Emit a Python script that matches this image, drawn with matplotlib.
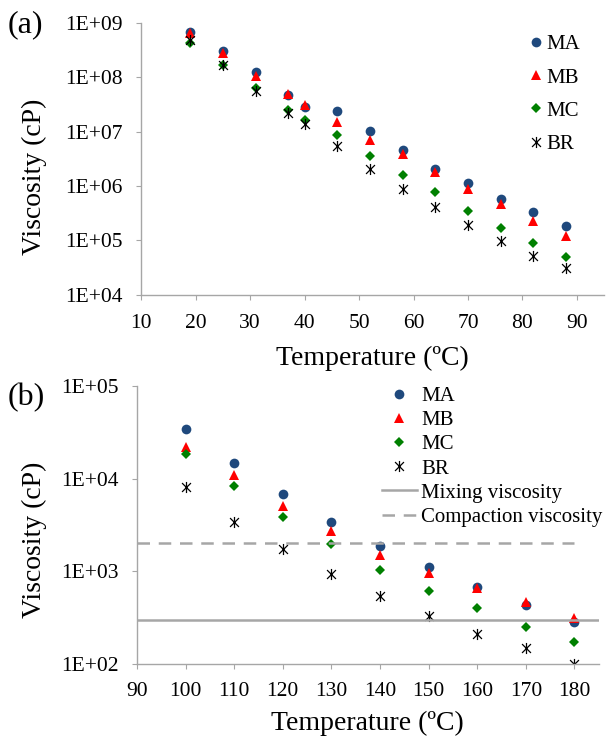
import numpy as np
import matplotlib
matplotlib.use('Agg')
from matplotlib import pyplot as plt
from matplotlib.path import Path
from matplotlib.ticker import FixedLocator, FuncFormatter

plt.rcParams['font.family'] = ['Liberation Serif', 'DejaVu Serif']

# (a) low temperature range
tempA = [19, 25, 31, 37, 40, 46, 52, 58, 64, 70, 76, 82, 88]
maA = [6.9e8, 3.0e8, 1.23e8, 4.8e7, 2.9e7, 2.4e7, 1.05e7, 4.7e6, 2.1e6, 1.15e6, 5.7e5, 3.3e5, 1.86e5]
mbA = [6.5e8, 2.8e8, 1.07e8, 4.9e7, 3.1e7, 1.48e7, 6.9e6, 3.9e6, 1.8e6, 8.9e5, 4.7e5, 2.3e5, 1.23e5]
mcA = [4.3e8, 1.7e8, 6.3e7, 2.5e7, 1.66e7, 8.7e6, 3.6e6, 1.6e6, 7.9e5, 3.5e5, 1.7e5, 8.9e4, 4.9e4]
brA = [4.8e8, 1.7e8, 5.7e7, 2.2e7, 1.4e7, 5.4e6, 2.1e6, 8.9e5, 4.1e5, 1.95e5, 9.6e4, 5.2e4, 3.1e4]

# (b) high temperature range
tempB = [100, 110, 120, 130, 140, 150, 160, 170, 180]
maB = [3.5e4, 1.48e4, 6.8e3, 3.4e3, 1.87e3, 1.12e3, 680, 430, 280]
mbB = [2.24e4, 1.1e4, 5.1e3, 2.7e3, 1.5e3, 950, 660, 470, 310]
mcB = [1.87e4, 8.4e3, 3.9e3, 1.96e3, 1.03e3, 610, 400, 250, 170]
brB = [8.1e3, 3.4e3, 1.74e3, 930, 540, 330, 210, 147, 100]
mixingVisc = 300
compactionVisc = 2000

# excel-style star: an x with a vertical bar through it
starMarker = Path([(-1, -1), (1, 1), (-1, 1), (1, -1), (0, -1.25), (0, 1.25)],
                  [Path.MOVETO, Path.LINETO, Path.MOVETO, Path.LINETO, Path.MOVETO, Path.LINETO])

series = [
    ('MA', 'o', '#1f497d', 7),
    ('MB', '^', '#ff0000', 7.5),
    ('MC', 'D', '#008000', 5.5),
    ('BR', starMarker, '#000000', 8),
]
gray = '#a6a6a6'
tickSize = 15.5
labelSize = 20


def expFormat(v, pos):
    return '1E+{:02d}'.format(int(round(np.log10(v))))


def styleAxis(ax, xlim, xticks, ylim, decades, ylabelPos, xlabelY):
    ax.set_yscale('log')
    ax.set_xlim(xlim)
    ax.set_ylim(ylim)
    ax.xaxis.set_major_locator(FixedLocator(xticks))
    ax.yaxis.set_major_locator(FixedLocator([10.0 ** d for d in decades]))
    ax.yaxis.set_minor_locator(FixedLocator([]))
    ax.yaxis.set_major_formatter(FuncFormatter(expFormat))
    for s in ['top', 'right']:
        ax.spines[s].set_visible(False)
    for s in ['left', 'bottom']:
        ax.spines[s].set_color(gray)
        ax.spines[s].set_linewidth(1.0)
    ax.tick_params(axis='both', which='major', direction='out', length=3.5,
                   color=gray, labelsize=tickSize, pad=10)
    ax.set_xlabel('Temperature (ºC)', fontsize=labelSize)
    ax.set_ylabel('Viscosity (cP)', fontsize=labelSize)
    ax.yaxis.set_label_coords(*ylabelPos)
    ax.xaxis.set_label_coords(0.5, xlabelY)


fig = plt.figure(figsize=(6.06, 7.39), dpi=100)
axA = fig.add_axes([0.233, 0.601, 0.764, 0.368])
axB = fig.add_axes([0.226, 0.102, 0.762, 0.375])

for (name, marker, color, size), vals in zip(series, [maA, mbA, mcA, brA]):
    axA.plot(tempA, vals, linestyle='none', marker=marker, color=color,
             markersize=size, markeredgewidth=0.9 if name == 'BR' else 0, label=name)
styleAxis(axA, (10, 95), range(10, 100, 10), (1e4, 1e9), range(4, 10), (-0.203, 0.434), -0.1875)
axA.legend(loc='upper left', bbox_to_anchor=(0.835, 0.956), frameon=False, fontsize=15,
           handlelength=0.8, handletextpad=0.1, labelspacing=0.65, borderaxespad=0.0,
           borderpad=0.0)

for (name, marker, color, size), vals in zip(series, [maB, mbB, mcB, brB]):
    axB.plot(tempB, vals, linestyle='none', marker=marker, color=color,
             markersize=size, markeredgewidth=0.9 if name == 'BR' else 0, label=name)
axB.plot([90, 185], [mixingVisc, mixingVisc], color=gray, linewidth=1.8, label='Mixing viscosity')
axB.plot([90, 180], [compactionVisc, compactionVisc], color=gray, linewidth=1.8,
         dashes=(5, 3.5), label='Compaction viscosity')
styleAxis(axB, (90, 185), range(90, 190, 10), (1e2, 1e5), range(2, 6), (-0.195, 0.446), -0.169)
axB.legend(loc='upper left', bbox_to_anchor=(0.53, 1.0), frameon=False, fontsize=15,
           handlelength=1.7, handletextpad=0.2, labelspacing=0.22, borderaxespad=0.0,
           borderpad=0.0)

fig.text(0.012, 0.966, '(a)', fontsize=23, va='center')
fig.text(0.012, 0.4614, '(b)', fontsize=23, va='center')

fig.savefig('out.png', dpi=100)
